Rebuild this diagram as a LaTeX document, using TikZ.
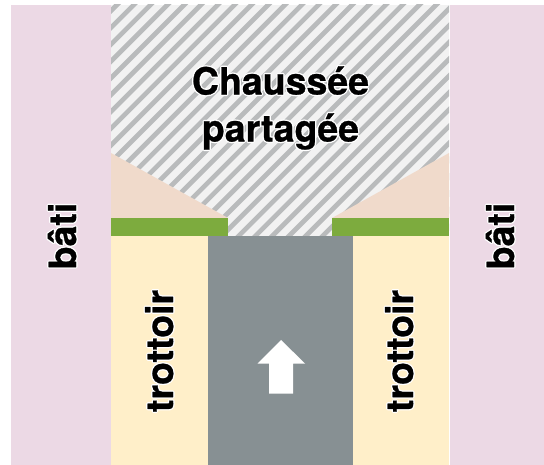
\documentclass[tikz,border=0pt]{standalone}
\usepackage{fontspec}
\setmainfont{TeX Gyre Heros}[BoldFeatures={FakeBold=0.7}]
\newfontface\haloface{TeX Gyre Heros Bold}
\definecolor{bati}{HTML}{ECD9E5}
\definecolor{trot}{HTML}{FFEFC9}
\definecolor{herbe}{HTML}{7DAB3E}
\definecolor{route}{HTML}{879093}
\definecolor{peche}{HTML}{F0DACB}
\definecolor{hfond}{HTML}{F2F2F2}
\definecolor{hraie}{HTML}{B9BBBC}
\tikzset{
  x=1pt,y=-1pt,
  lab/.style={font=\fontsize{37.5}{47}\selectfont\bfseries,text=black,inner sep=0pt,align=center}
}
\newcommand{\halo}[1]{\leavevmode\rlap{\special{pdf:code q 1 Tr 3 w 1 j 1 1 1 RG}{\haloface #1}\special{pdf:code Q}}#1}
\begin{document}
\begin{tikzpicture}
\useasboundingbox (0,0) rectangle (544,465);
\fill[white] (0,0) rectangle (544,465);
\fill[bati] (11,5) rectangle (111,465);
\fill[bati] (450,5) rectangle (544,465);
\begin{scope}
  \clip (111,5) rectangle (449,236);
  \fill[hfond] (111,5) rectangle (449,236);
  \foreach \i in {0,...,36}{
    \draw[hraie,line width=4.7pt] ({-145+\i*16.8},250) -- ({-145+\i*16.8+260},-10);
  }
\end{scope}
\fill[peche] (111,153) -- (228,218) -- (111,218) -- cycle;
\fill[peche] (449,153) -- (332,218) -- (449,218) -- cycle;
\fill[herbe] (111,218) rectangle (228,236);
\fill[herbe] (332,218) rectangle (449,236);
\fill[trot] (111,236) rectangle (208,465);
\fill[trot] (353,236) rectangle (449,465);
\fill[route] (208,236) rectangle (353,465);
\fill[white] (281,340) -- (305,363.5) -- (293,363.5) -- (293,393.5) -- (269,393.5) -- (269,363.5) -- (257.5,363.5) -- cycle;
\node[lab,anchor=center] (chaussee) at (280.5,108) {\halo{Chaussée}\\\halo{partagée}};
\node[lab,rotate=90,anchor=base] (batig) at (76,236) {\halo{bâti}};
\node[lab,rotate=90,anchor=base] (batid) at (514,236) {\halo{bâti}};
\node[lab,rotate=90,anchor=base] (trotg) at (173,351) {\halo{trottoir}};
\node[lab,rotate=90,anchor=base] (trotd) at (413,351) {\halo{trottoir}};
\end{tikzpicture}
\end{document}
